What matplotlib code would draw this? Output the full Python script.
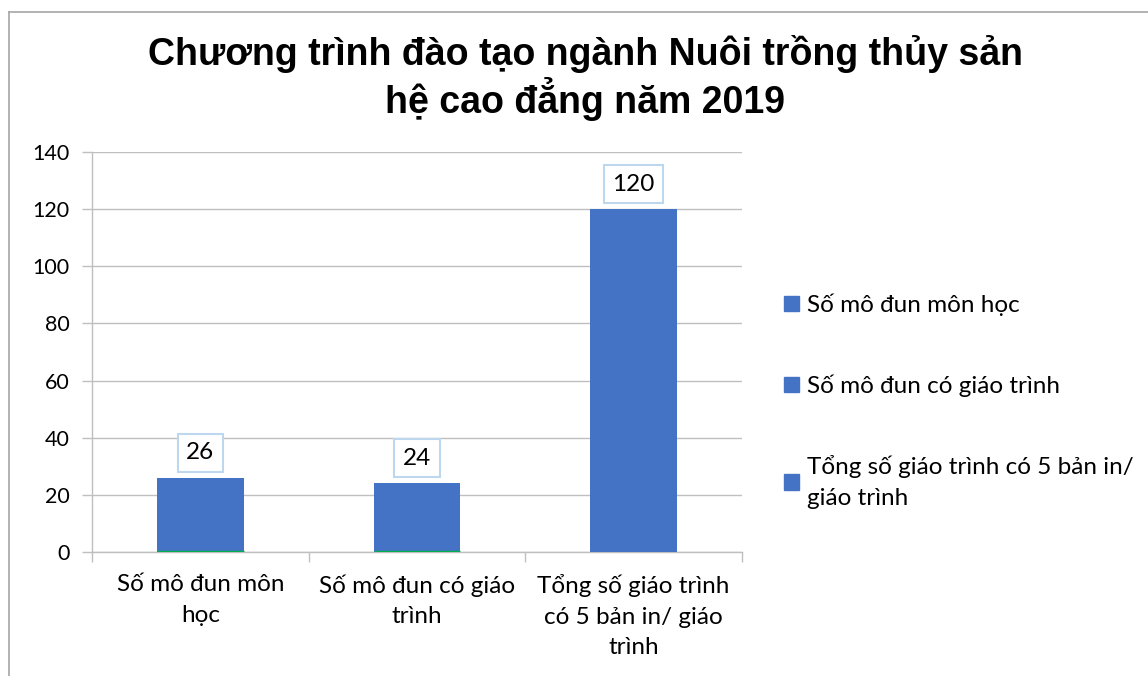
import matplotlib.pyplot as plt
from matplotlib.lines import Line2D
from matplotlib.patches import Patch

categories = [
    "Số mô đun môn\nhọc",
    "Số mô đun có giáo\ntrình",
    "Tổng số giáo trình\ncó 5 bản in/ giáo\ntrình",
]
legend_labels = [
    "Số mô đun môn học",
    "Số mô đun có giáo trình",
    "Tổng số giáo trình có 5 bản in/\ngiáo trình",
]
values = [26, 24, 120]
title = "Chương trình đào tạo ngành Nuôi trồng thủy sản\nhệ cao đẳng năm 2019"

BAR_COLOR = "#4472C4"
GRID_COLOR = "#BFBFBF"
TEXT_FONT = ["Lato", "DejaVu Sans"]
FS = 17.5

fig = plt.figure(figsize=(11.48, 6.76), dpi=100)
ax = fig.add_axes([0.0801, 0.1834, 0.5662, 0.5917])

x = list(range(len(values)))
bars = ax.bar(x, values, width=0.4, color=BAR_COLOR, zorder=3)

# thin green edge at the bottom of the first two bars
for patch in list(bars)[:2]:
    ax.plot([patch.get_x(), patch.get_x() + patch.get_width()], [0, 0],
            color="#00B050", lw=2.5, zorder=4, solid_capstyle="butt")

for xi, v in zip(x, values):
    ax.annotate(str(v), (xi, v), xytext=(0, 18), textcoords="offset points",
                ha="center", va="center", fontsize=FS, family=TEXT_FONT,
                bbox=dict(boxstyle="square,pad=0.35", fc="white",
                          ec="#BDD7EE", lw=1.5), zorder=5)

ax.set_xlim(-0.5, len(values) - 0.5)
ax.set_ylim(0, 140)
ax.set_yticks(range(0, 141, 20))
ax.set_xticks(x)
ax.set_xticklabels(categories, family=TEXT_FONT, fontsize=FS, linespacing=1.55)
ax.set_xticks([i - 0.5 for i in range(len(values) + 1)], minor=True)
ax.tick_params(axis="x", which="major", length=0, pad=16)
ax.tick_params(axis="x", which="minor", length=7, color=GRID_COLOR, width=1)
ax.tick_params(axis="y", length=7, color=GRID_COLOR, width=1, pad=9,
               labelsize=15.5)
for lbl in ax.get_yticklabels():
    lbl.set_family(TEXT_FONT)

ax.grid(axis="y", color=GRID_COLOR, lw=1, zorder=0)
for side in ["top", "right"]:
    ax.spines[side].set_visible(False)
for side in ["left", "bottom"]:
    ax.spines[side].set_color(GRID_COLOR)
    ax.spines[side].set_linewidth(1)

handles = [Patch(color=BAR_COLOR) for _ in legend_labels]
leg = fig.legend(handles, legend_labels, loc="upper left",
                 bbox_to_anchor=(0.664, 0.598), frameon=False,
                 prop={"family": TEXT_FONT, "size": FS},
                 handlelength=0.6, handleheight=0.6, handletextpad=0.35,
                 labelspacing=2.4)
for t in leg.get_texts():
    t.set_linespacing(1.55)

fig.text(0.51, 0.885, title, ha="center", va="center", fontsize=27,
         fontweight="bold", family=["Liberation Sans", "DejaVu Sans"],
         linespacing=1.1)

# outer chart frame (left and top edges visible)
fig.add_artist(Line2D([0.0078, 0.0078], [0, 0.982], transform=fig.transFigure,
                      color="#A6A6A6", lw=1.2))
fig.add_artist(Line2D([0.0078, 1], [0.982, 0.982], transform=fig.transFigure,
                      color="#A6A6A6", lw=1.2))

fig.savefig("out.png", dpi=100)
